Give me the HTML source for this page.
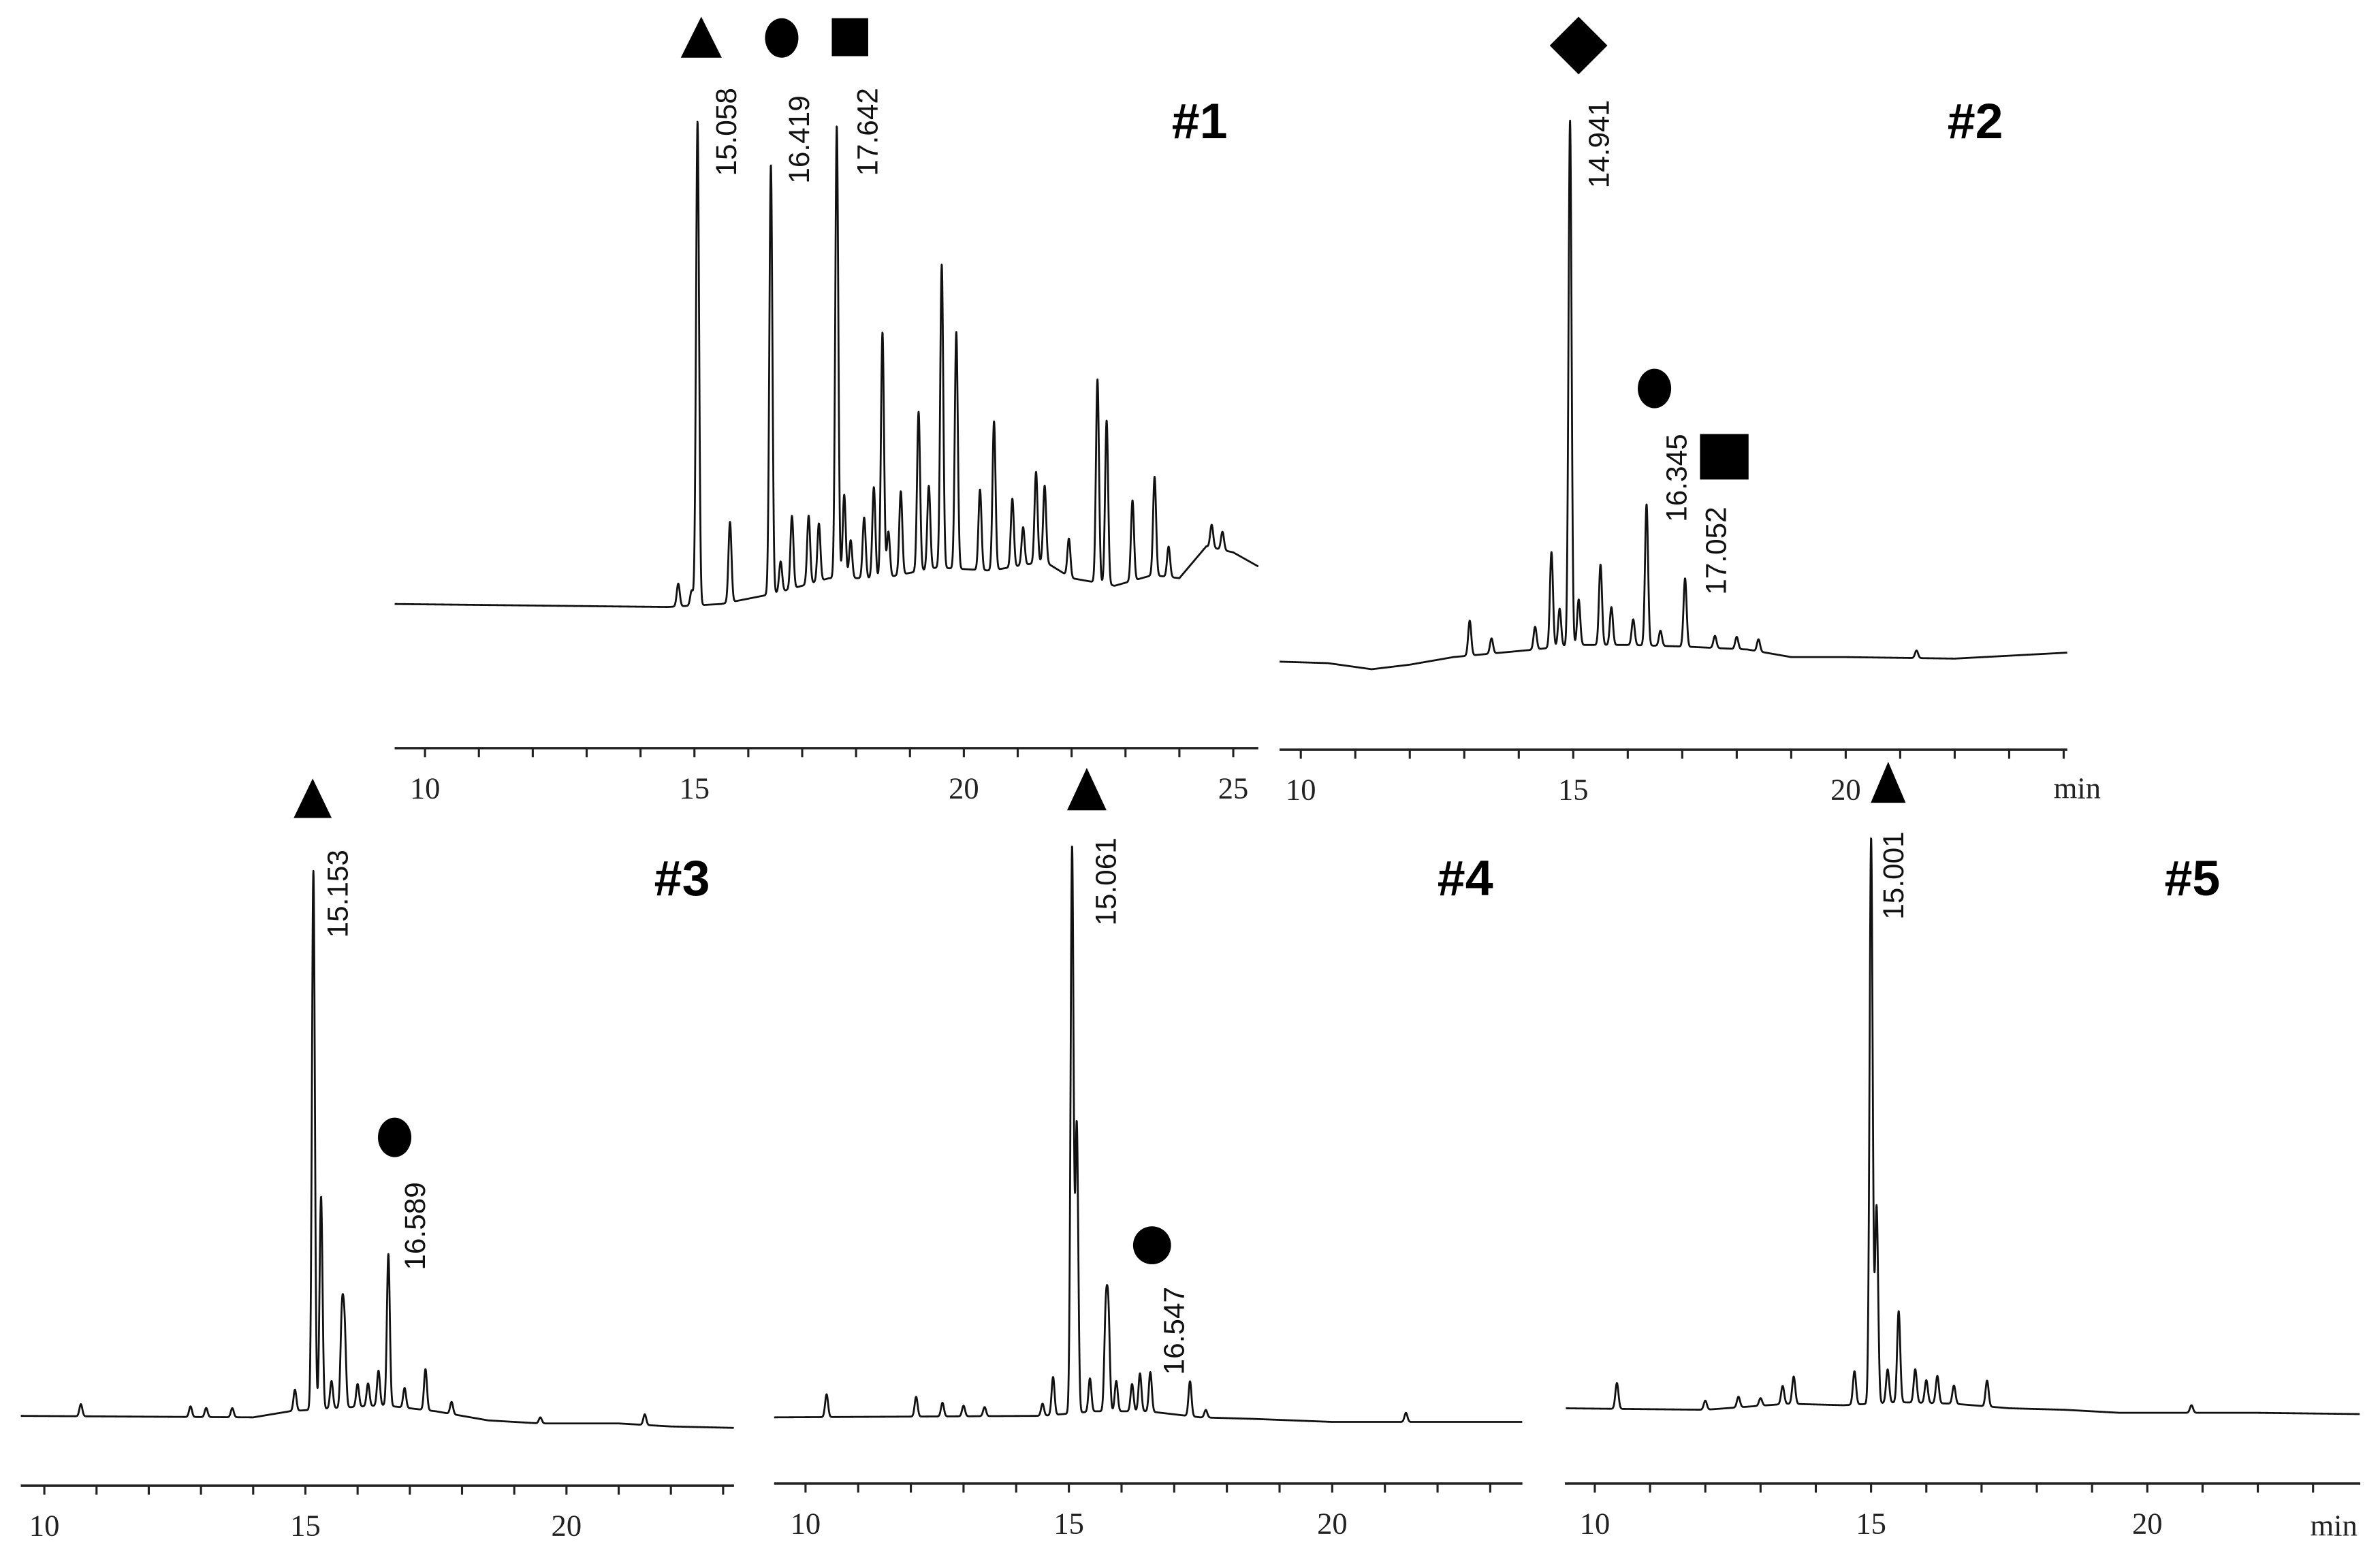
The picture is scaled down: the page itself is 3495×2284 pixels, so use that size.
<!DOCTYPE html>
<html><head><meta charset="utf-8"><title>GC chromatograms #1-#5</title>
<style>
html,body{margin:0;padding:0;background:#fff;}
svg{display:block;}
.tick{font-family:"Liberation Serif",serif;font-size:20px;fill:#222;}
.rt{font-family:"Liberation Sans",sans-serif;font-size:19px;fill:#111;}
.pn{font-family:"Liberation Sans",sans-serif;font-weight:bold;font-size:33px;fill:#000;}
</style></head>
<body>
<svg id="chart" width="3495" height="2284" viewBox="0 0 1568 1024.7" xmlns="http://www.w3.org/2000/svg">
<rect width="1568" height="1024.7" fill="#fff"/>
<g id="layer"></g>
</svg>
<script>
// ---- Panel #1 data ----
const p1PeakTimes=[14.7,14.95,15.058,15.66,16.419,16.6,16.81,17.12,17.31,17.642,17.78,17.9,18.15,18.33,18.49,18.6,18.83,19.16,19.35,19.59,19.86,20.30,20.56,20.90,21.1,21.34,21.50,21.95,22.48,22.65,23.13,23.54,23.8,24.6,24.8];
const p1PeakHeights=[15,10,319,53,283,20,48,45,38,298,55,25,40,60,162,30,55,105,55,200,156,53,98,45,25,60,50,25,134,108,53,65,20,15,12];
const p1BaseTimes=[9.4,14.5,15.5,16.5,17.5,18.5,19.5,20.5,21.5,22,22.8,23.5,24,24.5,25,25.5];
const p1BaseVals=[2,0,2,9,19,19,26,24,30,19,14,21,19,40,36,26];
const p1Ticks=[10,15,20,25];
// ---- Panel #2 data ----
const p2PeakTimes=[13.1,13.5,14.3,14.6,14.75,14.941,15.1,15.5,15.7,16.1,16.345,16.6,17.052,17.6,18.0,18.4,21.3];
const p2PeakHeights=[23,10,15,63,25,346,30,53,25,17,93,10,45,8,8,8,5];
const p2BaseTimes=[9.6,10.5,11.3,12,12.8,14.3,15,16,17,18.2,19,20,22,24.1];
const p2BaseVals=[1,0,-4,-1,4,9,12,12,11,9,4,4,3,7];
const p2Ticks=[10,15,20];
// ---- Panel #3 data ----
const p3PeakTimes=[10.7,12.8,13.1,13.6,14.8,15.153,15.3,15.5,15.7,15.75,16.0,16.2,16.4,16.589,16.9,17.3,17.8,19.5,21.5];
const p3PeakHeights=[8,7,6,6,14,355,140,18,60,50,15,15,23,100,13,27,8,4,7];
const p3BaseTimes=[9.4,14,14.7,15.5,16.5,17.5,18.5,19.5,21,22,23.3];
const p3BaseVals=[0,-1,3,5,7,3,-3,-5,-5,-7,-8];
const p3Ticks=[10,15,20];
// ---- Panel #4 data ----
const p4PeakTimes=[10.4,12.1,12.6,13.0,13.4,14.5,14.7,15.061,15.15,15.4,15.7,15.75,15.9,16.2,16.35,16.547,17.3,17.6,21.4];
const p4PeakHeights=[15,13,9,7,6,8,25,373,190,22,62,62,20,18,25,26,23,5,6];
const p4BaseTimes=[9.4,14.5,15.5,16.5,17.5,18.5,20,22,23.6];
const p4BaseVals=[0,1,4,4,0,-1,-3,-3,-3];
const p4Ticks=[10,15,20];
// ---- Panel #5 data ----
const p5PeakTimes=[10.4,12.0,12.6,13.0,13.4,13.6,14.7,15.001,15.1,15.3,15.5,15.8,16.0,16.2,16.5,17.1,20.8];
const p5PeakHeights=[17,6,7,5,12,18,22,373,130,22,60,22,15,18,12,17,5];
const p5BaseTimes=[9.4,12,13.5,14.5,15.5,16.5,17.5,18.5,19.5,21,22,24.2];
const p5BaseVals=[0,-1,3,2,4,3,0,-1,-3,-3,-3,-4];
const p5Ticks=[10,15,20];

const NS="http://www.w3.org/2000/svg";
const layer=document.getElementById('layer');
function mk(tag,attrs,parent){const e=document.createElementNS(NS,tag);for(const k in attrs)e.setAttribute(k,attrs[k]);(parent||layer).appendChild(e);return e;}
function interp(ts,vs,t){if(t<=ts[0])return vs[0];for(let i=1;i<ts.length;i++){if(t<=ts[i]){const f=(t-ts[i-1])/(ts[i]-ts[i-1]);return vs[i-1]+f*(vs[i]-vs[i-1]);}}return vs[vs.length-1];}

function panel(cfg){
  const g=mk('g',{});
  
  
  const xS=t=>cfg.x10+(t-10)*cfg.ppm;
  const yS=v=>cfg.y0-v;
  const ax=mk('line',{x1:cfg.axX0,x2:cfg.axX1,y1:cfg.axY,y2:cfg.axY,stroke:'#222','stroke-width':1.6},g);
  
  
  for(let t=Math.ceil((cfg.axX0-cfg.x10)/cfg.ppm+10);xS(t)<=cfg.axX1;t++){
    const tk=mk('line',{x1:xS(t),x2:xS(t),y1:cfg.axY,y2:cfg.axY+6,stroke:'#222','stroke-width':1.4},g);
    
    
  }
  cfg.ticks.forEach(t=>{
    const tl=mk('text',{x:xS(t),y:cfg.axY+33,'text-anchor':'middle',class:'tick'},g);
    tl.textContent=t;
    
    
  });
  let d='';
  const t0=(cfg.tr0-cfg.x10)/cfg.ppm+10, t1=(cfg.tr1-cfg.x10)/cfg.ppm+10;
  for(let t=t0;t<=t1;t+=0.004){
    let v=interp(cfg.bt,cfg.bv,t);
    for(let i=0;i<cfg.pt.length;i++){const z=(t-cfg.pt[i])/0.028;if(Math.abs(z)<6)v+=cfg.ph[i]*Math.exp(-z*z/2);}
    d+=(d?'L':'M')+xS(t).toFixed(2)+','+yS(v).toFixed(2);
  }
  const tr=mk('path',{d:d,fill:'none',stroke:'#111','stroke-width':1.25,'stroke-linejoin':'round'},g);
  
  
  return {g,xS,yS};
}
function rtLabel(g,x,yBottom,txt){
  const e=mk('text',{x:x,y:yBottom,transform:`rotate(-90 ${x} ${yBottom})`,class:'rt'},g);
  e.textContent=txt;
  
  
}
function title(g,x,y,txt){
  const e=mk('text',{x:x,y:y,class:'pn'},g);
  e.textContent=txt;
  
  
}
function tri(g,cx,top,bot,w){const e=mk('polygon',{points:`${cx},${top} ${cx-w/2},${bot} ${cx+w/2},${bot}`,fill:'#000'},g);
  
  }
function circ(g,cx,cy,rx,ry){const e=mk('ellipse',{cx:cx,cy:cy,rx:rx,ry:ry,fill:'#000'},g);
  
  }
function sq(g,x,y,w,h){const e=mk('rect',{x:x,y:y,width:w,height:h,fill:'#000'},g);
  
  }
function minLbl(g,x,y){const e=mk('text',{x:x,y:y,class:'tick'},g);e.textContent='min';
  
  }

let P=panel({name:'panel-1',x10:280,ppm:35.5,y0:400,axY:493,axX0:260,axX1:829,tr0:260,tr1:829,ticks:p1Ticks,pt:p1PeakTimes,ph:p1PeakHeights,bt:p1BaseTimes,bv:p1BaseVals});
rtLabel(P.g,485,116,'15.058');rtLabel(P.g,533,121,'16.419');rtLabel(P.g,578,116,'17.642');
tri(P.g,462,11,38,27);circ(P.g,515,25,11,13);sq(P.g,548,12,24,25);
title(P.g,772,91,'#1');

P=panel({name:'panel-2',x10:857,ppm:35.9,y0:437,axY:494,axX0:843,axX1:1362,tr0:843,tr1:1362,ticks:p2Ticks,pt:p2PeakTimes,ph:p2PeakHeights,bt:p2BaseTimes,bv:p2BaseVals});
rtLabel(P.g,1060,124,'14.941');rtLabel(P.g,1111,344,'16.345');rtLabel(P.g,1137,392,'17.052');
{const e=mk('polygon',{points:'1040,11 1059,30 1040,49 1021,30',fill:'#000'},P.g);
 
 }
circ(P.g,1090,256,11,13);sq(P.g,1120,286,32,30);
title(P.g,1283,91,'#2');minLbl(P.g,1353,526);

P=panel({name:'panel-3',x10:29.2,ppm:34.4,y0:933,axY:979,axX0:13.7,axX1:483.6,tr0:13.7,tr1:483.6,ticks:p3Ticks,pt:p3PeakTimes,ph:p3PeakHeights,bt:p3BaseTimes,bv:p3BaseVals});
rtLabel(P.g,229,618,'15.153');rtLabel(P.g,280,837,'16.589');
tri(P.g,206,513,539,25);circ(P.g,260,749.5,11,13);
title(P.g,431,590,'#3');

P=panel({name:'panel-4',x10:530.7,ppm:34.7,y0:934,axY:977.6,axX0:510,axX1:1003,tr0:510,tr1:1003,ticks:p4Ticks,pt:p4PeakTimes,ph:p4PeakHeights,bt:p4BaseTimes,bv:p4BaseVals});
rtLabel(P.g,735,610,'15.061');rtLabel(P.g,780,906,'16.547');
tri(P.g,716,506,534,26);circ(P.g,759,820.6,12.5,12.5);
title(P.g,947,590,'#4');

P=panel({name:'panel-5',x10:1050.7,ppm:36.4,y0:928,axY:977.6,axX0:1031,axX1:1555,tr0:1031.6,tr1:1554.7,ticks:p5Ticks,pt:p5PeakTimes,ph:p5PeakHeights,bt:p5BaseTimes,bv:p5BaseVals});
rtLabel(P.g,1254,606,'15.001');
tri(P.g,1244,502,529,23);
title(P.g,1426,590,'#5');minLbl(P.g,1522,1012);
</script>
</body></html>
